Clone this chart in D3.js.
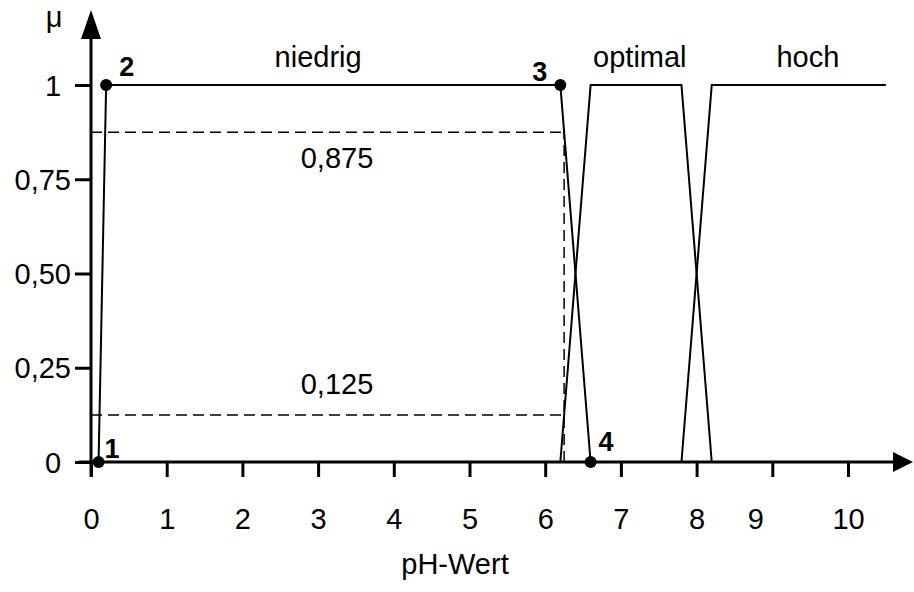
<!DOCTYPE html>
<html>
<head>
<meta charset="utf-8">
<script src="https://cdn.jsdelivr.net/npm/d3@7"></script>
<style>
  body { margin: 0; background: #fff; }
  svg { font-family: "Liberation Sans", Arial, sans-serif; }
</style>
</head>
<body>
<svg id="chart" width="914" height="592"></svg>
<script>
// Zugehoerigkeitsfunktionen (pH-Wert, mu)
var niedrigX = [0.1, 0.2, 6.2, 6.6];
var niedrigMu = [0, 1, 1, 0];
var optimalX = [6.2, 6.6, 7.8, 8.2];
var optimalMu = [0, 1, 1, 0];
var hochX = [7.8, 8.2, 10.5];
var hochMu = [0, 1, 1];

var mengenNamen = ["niedrig", "optimal", "hoch"];
var mengenPos = [3.0, 7.25, 9.47];

var punktNamen = ["1", "2", "3", "4"];
var punktX = [0.1, 0.2, 6.2, 6.6];
var punktMu = [0, 1, 1, 0];

var schnittMu = [0.875, 0.125];
var schnittLabels = ["0,875", "0,125"];
var schnittX = 6.25;

var xTicks = [0, 1, 2, 3, 4, 5, 6, 7, 8, 9, 10];
var yTicks = [0, 0.25, 0.5, 0.75, 1];
var yTickLabels = ["0", "0,25", "0,50", "0,75", "1"];

var FS = 29;

var svg = d3.select("#chart");
var x = d3.scaleLinear().domain([0, 10]).range([91, 848]);
var y = d3.scaleLinear().domain([0, 1]).range([462, 85]);

// Achsen
var xAxis = svg.append("g")
  .attr("transform", "translate(0," + y(0) + ")")
  .call(d3.axisBottom(x).tickValues(xTicks).tickSize(15).tickSizeOuter(0).tickFormat(d3.format("d")));
xAxis.select(".domain").remove();
xAxis.selectAll(".tick line").attr("stroke", "#000").attr("stroke-width", 3);
xAxis.selectAll(".tick text")
  .attr("y", 67).attr("dy", 0)
  .attr("dx", function (d) { return d === 9 ? -17 : 0; })
  .attr("font-size", FS).attr("fill", "#000");

var yAxis = svg.append("g")
  .attr("transform", "translate(" + x(0) + ",0)")
  .call(d3.axisLeft(y).tickValues(yTicks).tickSize(16).tickSizeOuter(0)
    .tickFormat(function (d, i) { return yTickLabels[i]; }));
yAxis.select(".domain").remove();
yAxis.selectAll(".tick line").attr("stroke", "#000").attr("stroke-width", 3);
yAxis.selectAll(".tick text")
  .attr("x", function (d) { return (d === 0 || d === 1) ? -38 : -20; })
  .attr("dy", "0.35em")
  .attr("text-anchor", function (d) { return (d === 0 || d === 1) ? "middle" : "end"; })
  .attr("font-size", FS).attr("fill", "#000");

// Achsenlinien mit Pfeilen
svg.append("line")
  .attr("x1", 79).attr("x2", 896)
  .attr("y1", y(0)).attr("y2", y(0))
  .attr("stroke", "#000").attr("stroke-width", 3);
svg.append("path")
  .attr("d", "M893," + (y(0) - 10) + "L913," + y(0) + "L893," + (y(0) + 10) + "Z")
  .attr("fill", "#000");
svg.append("line")
  .attr("x1", x(0)).attr("x2", x(0))
  .attr("y1", 477).attr("y2", 36)
  .attr("stroke", "#000").attr("stroke-width", 3);
svg.append("path")
  .attr("d", "M" + (x(0) - 10) + ",39L" + x(0) + ",10L" + (x(0) + 10) + ",39Z")
  .attr("fill", "#000");

svg.append("text").attr("x", 54).attr("y", 27)
  .attr("text-anchor", "middle").attr("font-size", FS).text("\u03bc");
svg.append("text").attr("x", 455).attr("y", 574)
  .attr("text-anchor", "middle").attr("font-size", FS).text("pH-Wert");

// gestrichelte Hilfslinien
schnittMu.forEach(function (m, i) {
  svg.append("line")
    .attr("x1", x(0)).attr("x2", x(schnittX))
    .attr("y1", y(m)).attr("y2", y(m))
    .attr("stroke", "#000").attr("stroke-width", 1.5)
    .attr("stroke-dasharray", "11,6");
  svg.append("text")
    .attr("x", 337).attr("y", y(m) + (i === 0 ? 36 : -21))
    .attr("text-anchor", "middle").attr("font-size", FS)
    .text(schnittLabels[i]);
});
svg.append("line")
  .attr("x1", x(schnittX)).attr("x2", x(schnittX))
  .attr("y1", y(0)).attr("y2", y(schnittMu[0]))
  .attr("stroke", "#000").attr("stroke-width", 1.5)
  .attr("stroke-dasharray", "11,6");

// Kurven
var line = d3.line().x(function (d) { return x(d[0]); }).y(function (d) { return y(d[1]); });
[[niedrigX, niedrigMu], [optimalX, optimalMu], [hochX, hochMu]].forEach(function (s) {
  svg.append("path")
    .attr("d", line(d3.zip(s[0], s[1])))
    .attr("fill", "none").attr("stroke", "#000").attr("stroke-width", 2);
});

mengenNamen.forEach(function (n, i) {
  svg.append("text")
    .attr("x", x(mengenPos[i])).attr("y", y(1) - 18)
    .attr("text-anchor", "middle").attr("font-size", FS).text(n);
});

// Punkte
svg.selectAll("circle.pt")
  .data(punktX)
  .enter().append("circle")
  .attr("class", "pt")
  .attr("cx", function (d) { return x(d); })
  .attr("cy", function (d, i) { return y(punktMu[i]); })
  .attr("r", 6).attr("fill", "#000");

var labOff = [[6, -4], [13, -9], [-28, -4], [8, -11]];
punktNamen.forEach(function (n, i) {
  svg.append("text")
    .attr("x", x(punktX[i]) + labOff[i][0]).attr("y", y(punktMu[i]) + labOff[i][1])
    .attr("font-size", 27).attr("font-weight", "bold").text(n);
});
</script>
</body>
</html>
